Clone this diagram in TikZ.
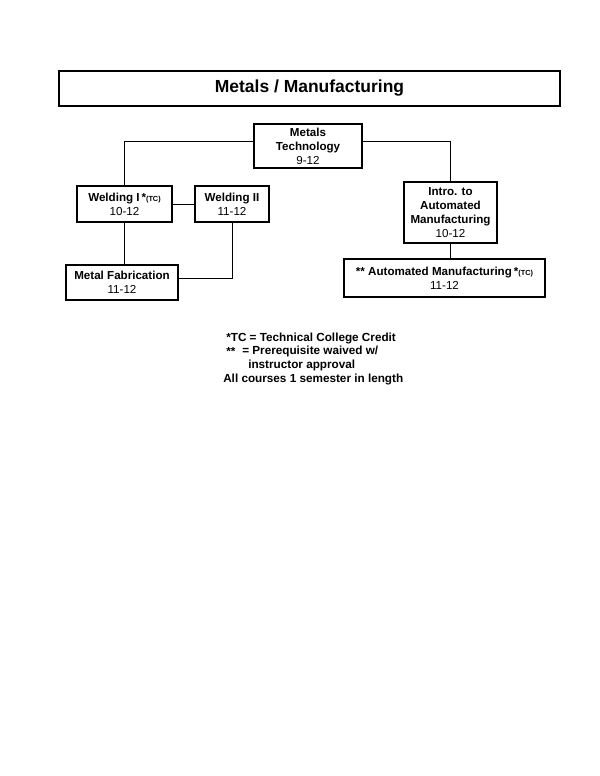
\documentclass[tikz,border=0pt]{standalone}
\usepackage{fontspec}
\setmainfont{Liberation Sans}
\usepackage{tikz}

\tikzset{
  course/.style={draw, line width=1.1pt, align=center, inner sep=0pt, font=\fontsize{8.7}{10.6}\selectfont},
  link/.style={line width=0.75pt},
  note/.style={anchor=west, inner sep=0pt, font=\bfseries\fontsize{8.8}{10}\selectfont},
}
\newcommand{\tcmark}{\,*{\fontsize{5.5}{6}\selectfont(TC)}}

\begin{document}
\begin{tikzpicture}[x=0.75pt,y=0.75pt,yscale=-1,xscale=1]
  \useasboundingbox (0,0) rectangle (600,776);

  %Shape: Title box
  \node [draw, line width=1.9pt, minimum width=375.75pt, minimum height=26.25pt, inner sep=0pt, font=\bfseries\fontsize{13.1}{15}\selectfont] (title) at (309.5,88.5) {Metals / Manufacturing};

  %Shape: Course boxes
  \node [course, minimum width=81pt, minimum height=33pt] (tech) at (308,146) {\textbf{Metals}\\\textbf{Technology}\\9-12};
  \node [course, minimum width=71.25pt, minimum height=27pt] (weldA) at (124.5,204) {\textbf{Welding I\tcmark}\\10-12};
  \node [course, minimum width=55.5pt, minimum height=27pt] (weldB) at (232,204) {\textbf{Welding II}\\11-12};
  \node [course, minimum width=84pt, minimum height=26.25pt] (fab) at (122,282.5) {\textbf{Metal Fabrication}\\11-12};
  \node [course, minimum width=69.75pt, minimum height=45.75pt] (intro) at (450.5,212.5) {\textbf{Intro. to}\\\textbf{Automated}\\\textbf{Manufacturing}\\10-12};
  \node [course, minimum width=150.75pt, minimum height=28.5pt] (auto) at (444.5,278) {\textbf{** Automated Manufacturing\tcmark}\\11-12};

  %Straight Lines
  \draw [link] ([yshift=-3.75pt]tech.west) -| (weldA.north);
  \draw [link] ([yshift=-3.75pt]tech.east) -| (intro.north);
  \draw [link] (weldA.east) -- (weldB.west);
  \draw [link] (weldA.south) -- (weldA.south |- fab.north);
  \draw [link] (weldB.south) |- ([yshift=-3pt]fab.east);
  \draw [link] (intro.south) -- (intro.south |- auto.north);

  % Text Node
  \node [note] (noteA) at (226,338) {*TC = Technical College Credit};
  \node [note] (noteB) at (226,351) {**};
  \node [note] (noteC) at (242,351) {= Prerequisite waived w/};
  \node [note] (noteD) at (248,365) {instructor approval};
  \node [note] (noteE) at (223,379) {All courses 1 semester in length};
\end{tikzpicture}
\end{document}
